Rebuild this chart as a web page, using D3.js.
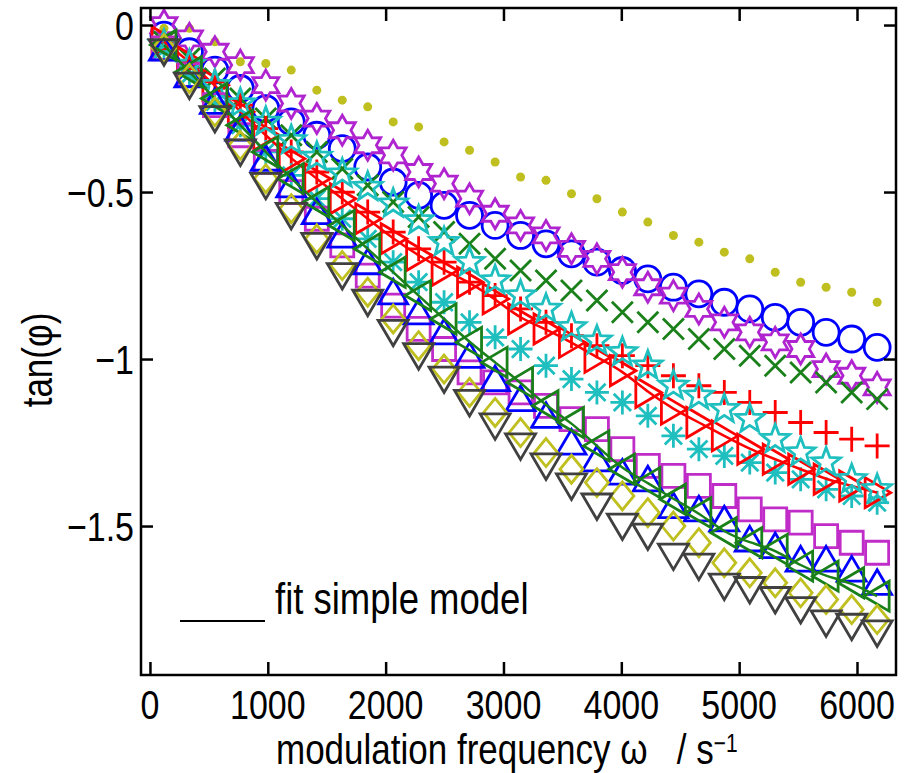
<!DOCTYPE html>
<html>
<head>
<meta charset="utf-8">
<script src="https://cdn.jsdelivr.net/npm/d3@7"></script>
<style>
 body { margin: 0; background: #fff; }
 text { font-family: "Liberation Sans", Arial, sans-serif; fill: #000; }
</style>
</head>
<body>
<svg width="908" height="773"></svg>
<script>
// modulation frequencies (s^-1), same for every sample
var omega = [119, 335, 551, 767, 983, 1199, 1416, 1632, 1848, 2064, 2280, 2496, 2712, 2929, 3145,
             3361, 3577, 3793, 4009, 4225, 4442, 4658, 4874, 5090, 5306, 5522, 5738, 5955, 6171];

var dotsY   = [-0.01,-0.01,-0.05,-0.11,-0.115,-0.135,-0.195,-0.225,-0.245,-0.29,-0.305,-0.35,-0.375,-0.41,-0.455,-0.465,-0.505,-0.52,-0.56,-0.59,-0.63,-0.65,-0.68,-0.70,-0.74,-0.77,-0.785,-0.80,-0.83];
var circY   = [-0.03,-0.08,-0.135,-0.19,-0.25,-0.29,-0.33,-0.37,-0.425,-0.47,-0.51,-0.54,-0.57,-0.60,-0.63,-0.655,-0.685,-0.71,-0.735,-0.76,-0.785,-0.805,-0.83,-0.85,-0.875,-0.89,-0.92,-0.94,-0.965];
var hexY    = [0.0,-0.04,-0.08,-0.12,-0.18,-0.235,-0.28,-0.315,-0.36,-0.39,-0.44,-0.475,-0.52,-0.565,-0.60,-0.63,-0.67,-0.70,-0.74,-0.785,-0.81,-0.85,-0.89,-0.92,-0.95,-0.97,-1.03,-1.05,-1.085];
var timesY  = [-0.05,-0.10,-0.16,-0.22,-0.28,-0.33,-0.38,-0.43,-0.48,-0.53,-0.575,-0.62,-0.655,-0.70,-0.735,-0.765,-0.795,-0.825,-0.86,-0.89,-0.91,-0.94,-0.97,-0.99,-1.02,-1.04,-1.07,-1.10,-1.12];
var plusY   = [-0.05,-0.11,-0.17,-0.24,-0.31,-0.38,-0.44,-0.50,-0.56,-0.62,-0.67,-0.71,-0.77,-0.81,-0.85,-0.89,-0.93,-0.96,-0.99,-1.02,-1.05,-1.08,-1.10,-1.13,-1.16,-1.19,-1.22,-1.24,-1.26];
var astY    = [-0.07,-0.15,-0.23,-0.30,-0.38,-0.45,-0.52,-0.58,-0.64,-0.71,-0.77,-0.83,-0.89,-0.935,-0.97,-1.02,-1.06,-1.10,-1.13,-1.17,-1.23,-1.27,-1.29,-1.31,-1.34,-1.36,-1.39,-1.41,-1.43];
var rtriY   = [-0.05,-0.11,-0.18,-0.26,-0.33,-0.40,-0.46,-0.52,-0.58,-0.64,-0.69,-0.735,-0.77,-0.82,-0.88,-0.91,-0.95,-0.995,-1.035,-1.10,-1.15,-1.19,-1.23,-1.27,-1.30,-1.33,-1.36,-1.38,-1.40];
var pentY   = [-0.06,-0.12,-0.18,-0.235,-0.29,-0.345,-0.395,-0.445,-0.485,-0.535,-0.585,-0.65,-0.71,-0.765,-0.81,-0.85,-0.905,-0.945,-0.98,-1.02,-1.08,-1.11,-1.15,-1.18,-1.24,-1.28,-1.31,-1.36,-1.39];
var sqY     = [-0.07,-0.15,-0.24,-0.33,-0.41,-0.50,-0.58,-0.66,-0.75,-0.84,-0.91,-0.97,-1.04,-1.07,-1.10,-1.14,-1.18,-1.21,-1.27,-1.32,-1.35,-1.38,-1.41,-1.45,-1.48,-1.49,-1.53,-1.55,-1.58];
var utriY   = [-0.07,-0.15,-0.23,-0.31,-0.40,-0.48,-0.56,-0.63,-0.71,-0.80,-0.86,-0.92,-0.99,-1.06,-1.12,-1.17,-1.25,-1.30,-1.34,-1.36,-1.44,-1.45,-1.48,-1.54,-1.56,-1.60,-1.60,-1.63,-1.67];
var ltriY   = [-0.06,-0.14,-0.22,-0.30,-0.38,-0.46,-0.53,-0.60,-0.67,-0.74,-0.81,-0.88,-0.95,-1.01,-1.07,-1.14,-1.19,-1.26,-1.33,-1.37,-1.42,-1.46,-1.52,-1.55,-1.57,-1.62,-1.65,-1.67,-1.71];
var diaY    = [-0.07,-0.16,-0.26,-0.36,-0.46,-0.55,-0.64,-0.72,-0.80,-0.88,-0.96,-1.03,-1.10,-1.16,-1.22,-1.28,-1.33,-1.37,-1.41,-1.46,-1.50,-1.55,-1.61,-1.64,-1.67,-1.70,-1.72,-1.75,-1.78];
var dtriY   = [-0.08,-0.18,-0.28,-0.38,-0.48,-0.57,-0.66,-0.75,-0.83,-0.92,-0.99,-1.06,-1.13,-1.20,-1.26,-1.32,-1.38,-1.44,-1.50,-1.53,-1.59,-1.62,-1.68,-1.69,-1.72,-1.75,-1.79,-1.80,-1.82];

var xTicks = [0, 1000, 2000, 3000, 4000, 5000, 6000];
var xTickLabels = ["0", "1000", "2000", "3000", "4000", "5000", "6000"];
var yTicks = [0, -0.5, -1, -1.5];
var yTickLabels = ["0", "\u22120.5", "\u22121", "\u22121.5"];

// custom marker shapes, "size" is used as half width in px
function poly(ctx, pts) {
    ctx.moveTo(pts[0][0], pts[0][1]);
    for (var i = 1; i < pts.length; i++) ctx.lineTo(pts[i][0], pts[i][1]);
    ctx.closePath();
}
function star(n, inner) {
    return { draw: function(ctx, r) {
        var pts = [];
        for (var i = 0; i < 2 * n; i++) {
            var a = -Math.PI / 2 + i * Math.PI / n, rr = i % 2 ? r * inner : r;
            pts.push([rr * Math.cos(a), rr * Math.sin(a)]);
        }
        poly(ctx, pts);
    }};
}
var shapes = {
    dot:    { draw: function(ctx, r) { ctx.moveTo(r, 0); ctx.arc(0, 0, r, 0, 2 * Math.PI); } },
    circle: { draw: function(ctx, r) { ctx.moveTo(r, 0); ctx.arc(0, 0, r, 0, 2 * Math.PI); } },
    hex:    star(6, 0.577),
    pent:   star(5, 0.42),
    times:  { draw: function(ctx, r) { ctx.moveTo(-r, -r); ctx.lineTo(r, r); ctx.moveTo(-r, r); ctx.lineTo(r, -r); } },
    plus:   { draw: function(ctx, r) { ctx.moveTo(-r, 0); ctx.lineTo(r, 0); ctx.moveTo(0, -r); ctx.lineTo(0, r); } },
    ast:    { draw: function(ctx, r) {
                var d = r * 0.72;
                ctx.moveTo(-r, 0); ctx.lineTo(r, 0); ctx.moveTo(0, -r); ctx.lineTo(0, r);
                ctx.moveTo(-d, -d); ctx.lineTo(d, d); ctx.moveTo(-d, d); ctx.lineTo(d, -d); } },
    square: { draw: function(ctx, r) { poly(ctx, [[-r, -r], [r, -r], [r, r], [-r, r]]); } },
    up:     { draw: function(ctx, r) { poly(ctx, [[0, -0.9 * r], [r, 0.8 * r], [-r, 0.8 * r]]); } },
    down:   { draw: function(ctx, r) { poly(ctx, [[0, 0.9 * r], [r, -0.8 * r], [-r, -0.8 * r]]); } },
    left:   { draw: function(ctx, r) { poly(ctx, [[-0.9 * r, 0], [0.8 * r, -r], [0.8 * r, r]]); } },
    right:  { draw: function(ctx, r) { poly(ctx, [[0.9 * r, 0], [-0.8 * r, -r], [-0.8 * r, r]]); } },
    diamond:{ draw: function(ctx, r) { poly(ctx, [[0, -r], [0.82 * r, 0], [0, r], [-0.82 * r, 0]]); } }
};

// drawing order = stacking order
var series = [
    { y: dotsY,  shape: "dot",     r: 4.5,  color: "#bfbf1f", fill: true },
    { y: circY,  shape: "circle",  r: 13,   color: "#0000ff" },
    { y: hexY,   shape: "hex",     r: 15,   color: "#b024d0" },
    { y: timesY, shape: "times",   r: 10.5, color: "#1a801a" },
    { y: plusY,  shape: "plus",    r: 12.5, color: "#ff0000" },
    { y: astY,   shape: "ast",     r: 12,   color: "#1fbfbf" },
    { y: rtriY,  shape: "right",   r: 15,   color: "#ff0000", fit: true },
    { y: pentY,  shape: "pent",    r: 15,   color: "#1fbfbf" },
    { y: sqY,    shape: "square",  r: 11.5, color: "#c02cc8" },
    { y: utriY,  shape: "up",      r: 14.5, color: "#0000ff" },
    { y: ltriY,  shape: "left",    r: 15,   color: "#1a801a", fit: true },
    { y: diaY,   shape: "diamond", r: 14,   color: "#bfbf1f" },
    { y: dtriY,  shape: "down",    r: 15,   color: "#404040" }
];

var svg = d3.select("svg");
var L = 141, R = 896, T = 8, B = 675;

var x = d3.scaleLinear().domain([-76, 6331]).range([L, R]);
var y = d3.scaleLinear().domain([-1.946, 0.051]).range([B, T]);

function stretched(g, px, py, str, anchor, size) {
    return g.append("text")
        .attr("transform", "translate(" + px + "," + py + ") scale(1,1.22)")
        .attr("text-anchor", anchor)
        .attr("font-size", size + "px")
        .text(str);
}

// data
var plot = svg.append("g");
var fitLine = d3.line()
    .x(function(d, i) { return x(omega[i]); })
    .y(function(d) { return y(d); })
    .curve(d3.curveBasis);

series.forEach(function(s) {
    if (s.fit) {
        plot.append("path")
            .attr("d", fitLine(s.y))
            .attr("fill", "none")
            .attr("stroke", s.color)
            .attr("stroke-width", 2.5);
    }
    var sym = d3.symbol().type(shapes[s.shape]).size(s.r);
    plot.append("g").selectAll("path")
        .data(s.y)
        .enter()
        .append("path")
        .attr("transform", function(d, i) { return "translate(" + x(omega[i]) + "," + y(d) + ")"; })
        .attr("d", sym)
        .attr("fill", s.fill ? s.color : "none")
        .attr("stroke", s.fill ? "none" : s.color)
        .attr("stroke-width", 2.8)
        .attr("stroke-linejoin", "miter");
});

// axes: ticks pointing inward on all four sides
function styleAxis(g) {
    g.select(".domain").remove();
    g.selectAll(".tick line").attr("stroke", "#000").attr("stroke-width", 2.5);
}
svg.append("g").attr("transform", "translate(0," + B + ")")
   .call(d3.axisBottom(x).tickValues(xTicks).tickSize(-13).tickFormat("")).call(styleAxis);
svg.append("g").attr("transform", "translate(0," + T + ")")
   .call(d3.axisTop(x).tickValues(xTicks).tickSize(-13).tickFormat("")).call(styleAxis);
svg.append("g").attr("transform", "translate(" + L + ",0)")
   .call(d3.axisLeft(y).tickValues(yTicks).tickSize(-12).tickFormat("")).call(styleAxis);
svg.append("g").attr("transform", "translate(" + R + ",0)")
   .call(d3.axisRight(y).tickValues(yTicks).tickSize(-12).tickFormat("")).call(styleAxis);

svg.append("rect")
    .attr("x", L).attr("y", T).attr("width", R - L).attr("height", B - T)
    .attr("fill", "none").attr("stroke", "#000").attr("stroke-width", 2.5);

// tick labels
var labels = svg.append("g");
xTicks.forEach(function(v, i) { stretched(labels, x(v), 719, xTickLabels[i], "middle", 34); });
yTicks.forEach(function(v, i) { stretched(labels, 134, y(v) + 15, yTickLabels[i], "end", 34); });

// axis titles
var xl = stretched(labels, 276, 764, "", "start", 35);
xl.append("tspan").text("modulation frequency \u03c9\u00a0\u00a0\u00a0/\u00a0s");
xl.append("tspan").attr("dy", -10).attr("font-size", "21px").text("\u22121");

labels.append("text")
    .attr("transform", "translate(52,360) rotate(-90) scale(1,1.22)")
    .attr("text-anchor", "middle")
    .attr("font-size", "35px")
    .text("tan(\u03c6)");

// legend
svg.append("line")
    .attr("x1", 180).attr("x2", 265).attr("y1", 621).attr("y2", 621)
    .attr("stroke", "#000").attr("stroke-width", 2);
stretched(svg, 275, 614, "fit simple model", "start", 36.5);
</script>
</body>
</html>
